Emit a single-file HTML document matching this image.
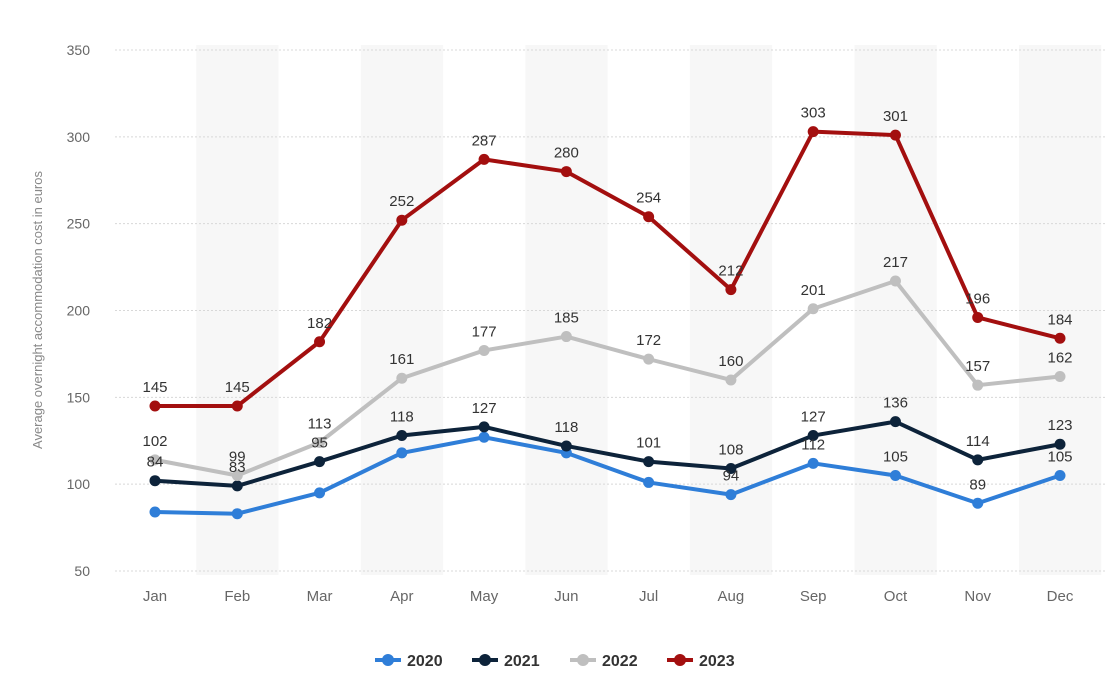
<!DOCTYPE html>
<html><head><meta charset="utf-8">
<style>
body{margin:0;background:#fff;font-family:"Liberation Sans",sans-serif;}
svg{display:block}
</style></head>
<body>
<svg id="chart" width="1120" height="690"></svg>
<script>
const months=["Jan","Feb","Mar","Apr","May","Jun","Jul","Aug","Sep","Oct","Nov","Dec"];
const yTicks=[50,100,150,200,250,300,350];
const seriesNames=["2020","2021","2022","2023"];
const colors=["#2f7ed8","#0d233a","#bfbfbf","#a30f0f"];
const v2020=[84,83,95,118,127,118,101,94,112,105,89,105];
const v2021=[102,99,113,128,133,122,113,109,128,136,114,123];
const v2022=[114,105,124,161,177,185,172,160,201,217,157,162];
const v2023=[145,145,182,252,287,280,254,212,303,301,196,184];
const l2020=[null,null,null,null,null,null,null,94,112,105,89,105];
const l2021=[84,83,95,118,127,118,101,108,127,136,114,123];
const l2022=[102,99,113,161,177,185,172,160,201,217,157,162];
const l2023=[145,145,182,252,287,280,254,212,303,301,196,184];
const values=[v2020,v2021,v2022,v2023];
const labels=[l2020,l2021,l2022,l2023];

const NS="http://www.w3.org/2000/svg";
const svg=document.getElementById("chart");
function mk(t,a,p){const e=document.createElementNS(NS,t);for(const k in a)e.setAttribute(k,a[k]);(p||svg).appendChild(e);return e;}
const x0=155,step=(1060-155)/11;
function xs(i){return x0+i*step;}
function ys(v){return 571-(v-50)*(521/300);}

for(let i=1;i<12;i+=2){
  const b=mk("rect",{x:xs(i)-41,y:45,width:step,height:530,fill:"#f7f7f7"});
  
  
}
yTicks.forEach(t=>{
  const g=mk("line",{x1:115,x2:1105,y1:ys(t),y2:ys(t),stroke:"#d8d8d8","stroke-dasharray":"2,2"});
  
  
  const tx=mk("text",{x:90,y:ys(t)+5,"text-anchor":"end","font-size":"14",fill:"#666"});
  tx.textContent=t;
  
  
});
months.forEach((m,i)=>{
  const tx=mk("text",{x:xs(i),y:601,"text-anchor":"middle","font-size":"15",fill:"#666"});
  tx.textContent=m;
  
  
});
const yt=mk("text",{x:0,y:0,transform:"translate(42,310) rotate(-90)","text-anchor":"middle","font-size":"13",fill:"#888"});
yt.textContent="Average overnight accommodation cost in euros";



values.forEach((vals,s)=>{
  const pts=vals.map((v,i)=>xs(i)+","+ys(v)).join(" ");
  const pl=mk("polyline",{points:pts,fill:"none",stroke:colors[s],"stroke-width":"4","stroke-linejoin":"round"});
  
  
  vals.forEach((v,i)=>{
    const c=mk("circle",{cx:xs(i),cy:ys(v),r:5.5,fill:colors[s]});
    
    
  });
});
labels.forEach((arr,s)=>{
  arr.forEach((l,i)=>{
    if(l===null)return;
    const t=mk("text",{x:xs(i),y:ys(values[s][i])-14,"text-anchor":"middle","font-size":"15",fill:"#333"});
    t.textContent=l;
    
    
  });
});
const lx=[375,472,570,667];
seriesNames.forEach((n,s)=>{
  const g=mk("g",{});
  
  
  mk("line",{x1:lx[s],x2:lx[s]+26,y1:660,y2:660,stroke:colors[s],"stroke-width":"4"},g);
  mk("circle",{cx:lx[s]+13,cy:660,r:6,fill:colors[s]},g);
  const t=mk("text",{x:lx[s]+32,y:666,"font-size":"16","font-weight":"bold",fill:"#333"},g);
  t.textContent=n;
});
</script>
</body></html>
